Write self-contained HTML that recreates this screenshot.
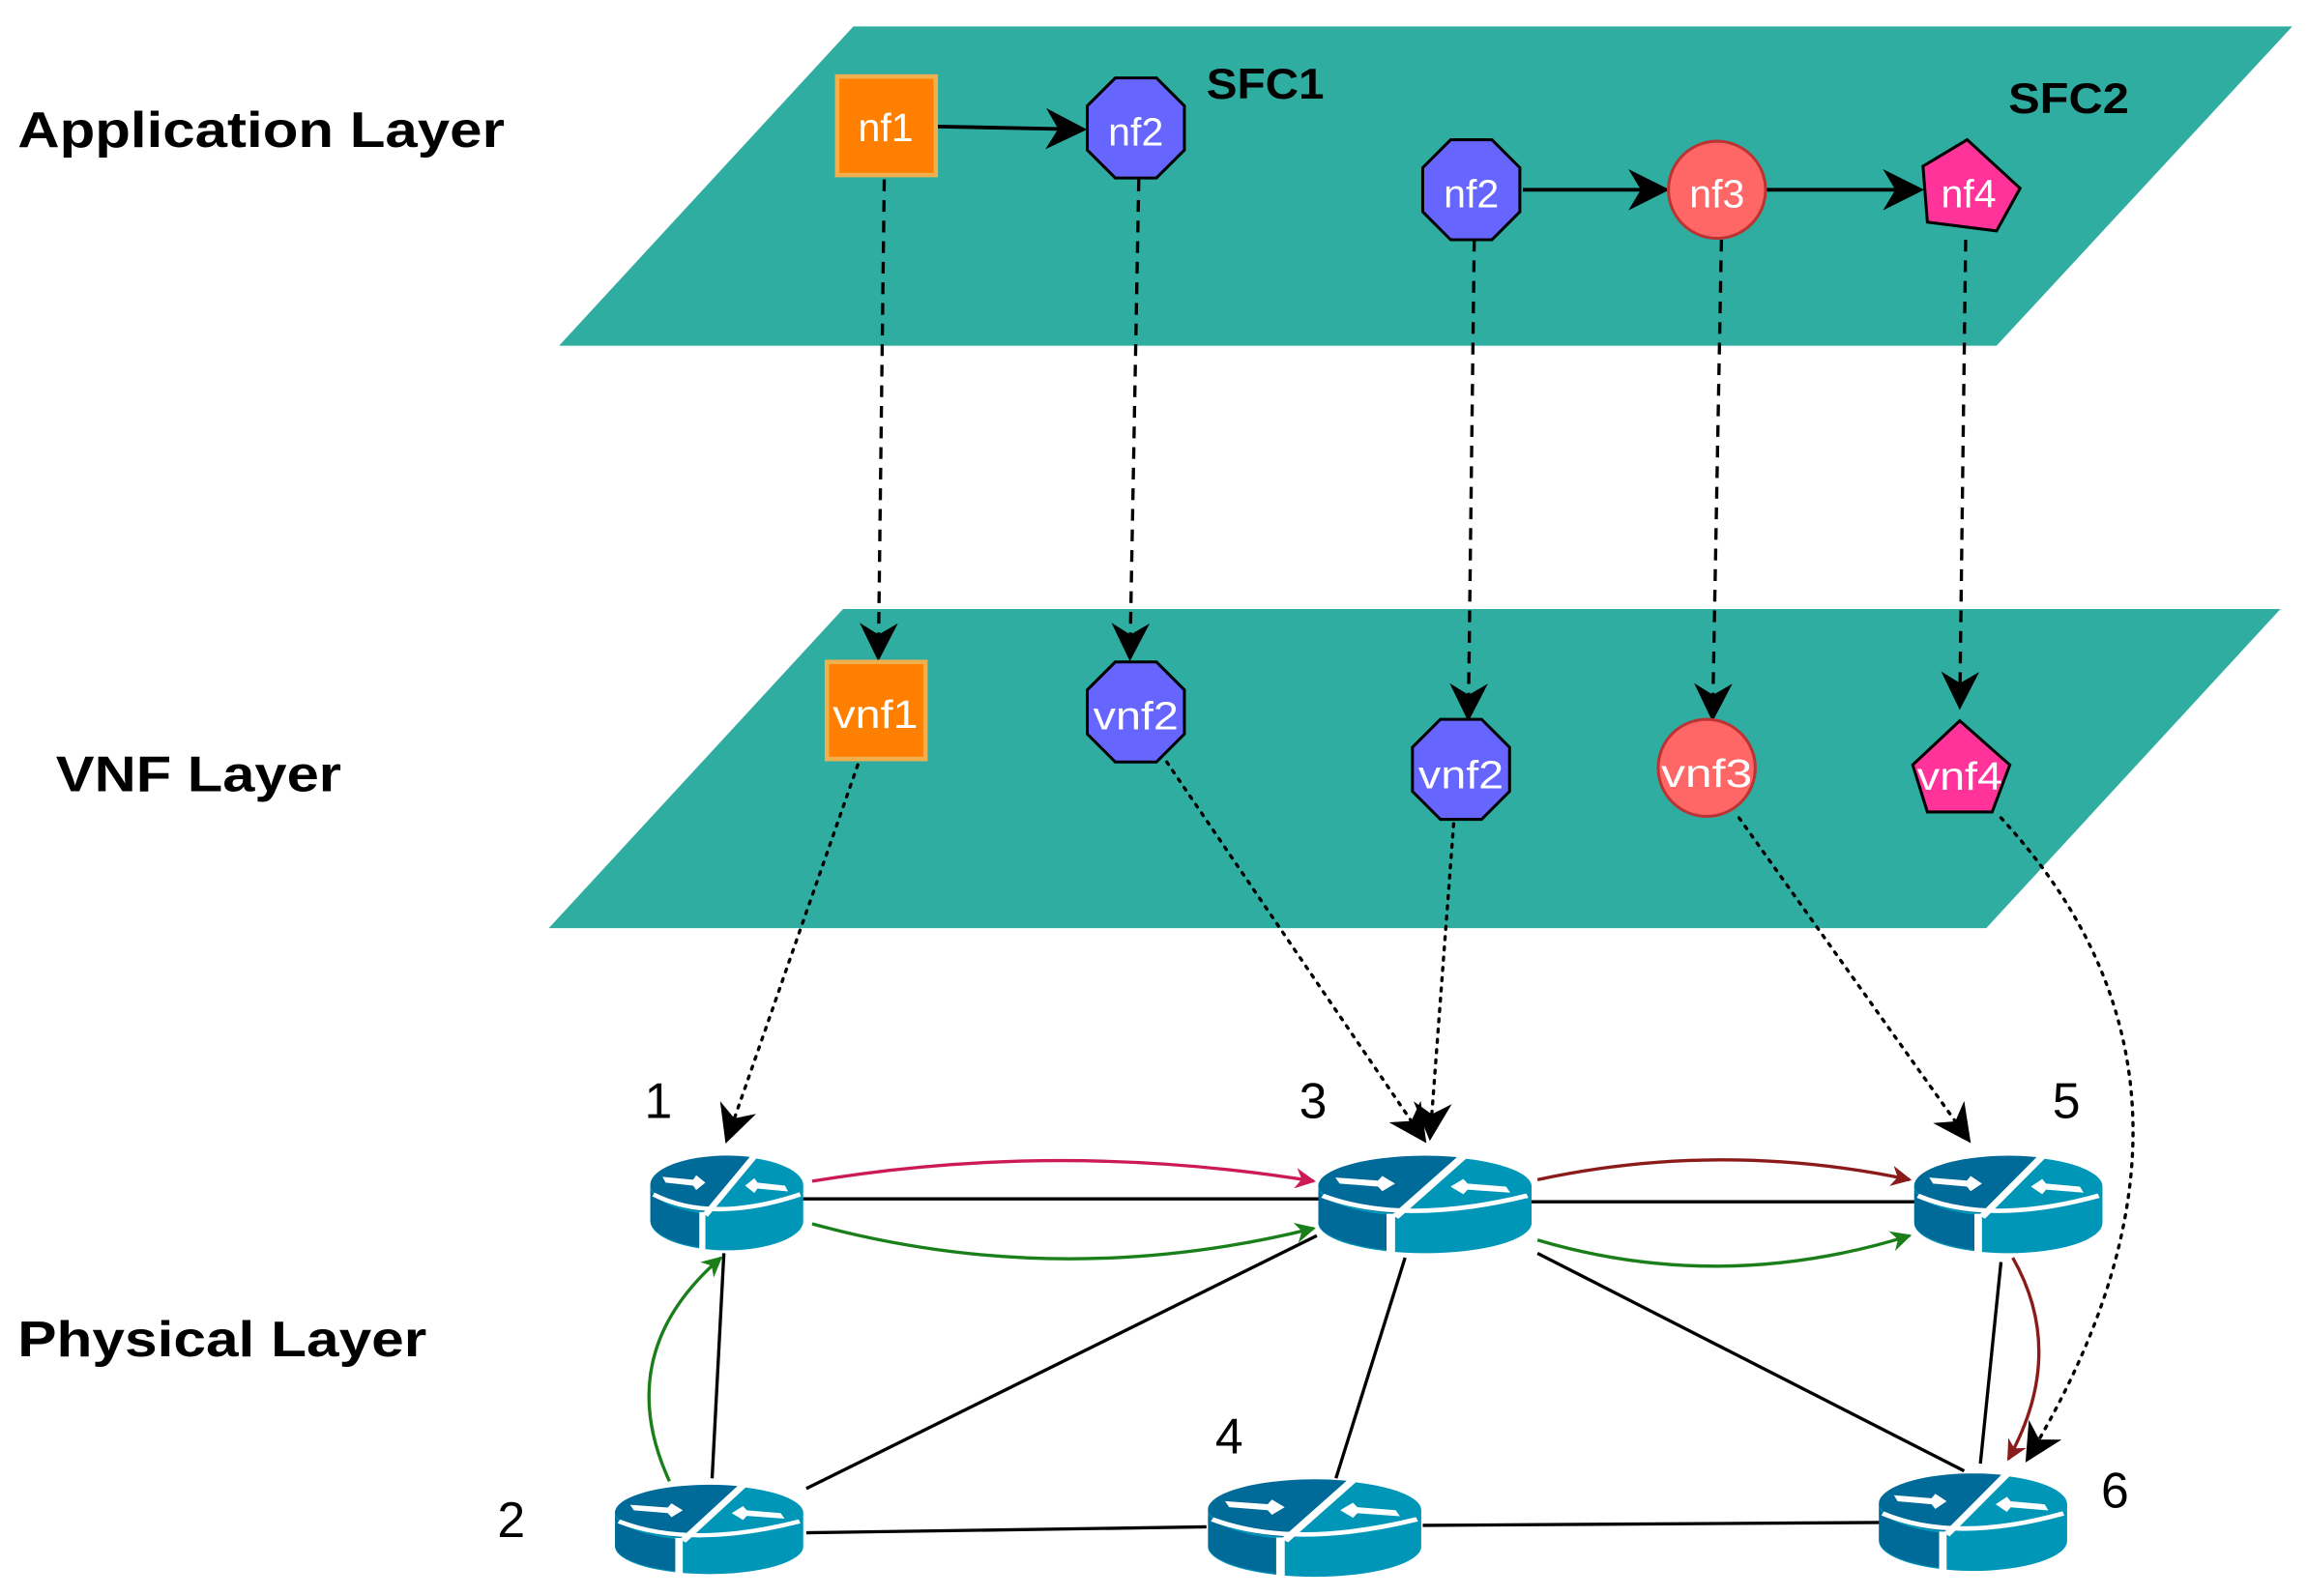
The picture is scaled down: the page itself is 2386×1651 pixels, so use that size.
<!DOCTYPE html>
<html><head><meta charset="utf-8"><style>
html,body{margin:0;padding:0;background:#fff;}
svg{display:block;}
text{font-family:"Liberation Sans",sans-serif;}
</style></head><body>
<svg width="2386" height="1651" viewBox="0 0 1568 1085" preserveAspectRatio="none" xmlns="http://www.w3.org/2000/svg">
<defs>
<marker id="ahb" viewBox="0 0 10 10" refX="9" refY="5" markerWidth="28" markerHeight="28" orient="auto" markerUnits="userSpaceOnUse">
<path d="M0,0 L10,5 L0,10 L3,5 z" fill="#000"/></marker>
<marker id="ahd" viewBox="0 0 10 10" refX="9" refY="5" markerWidth="26" markerHeight="26" orient="auto" markerUnits="userSpaceOnUse">
<path d="M0,0 L10,5 L0,10 L3,5 z" fill="#000"/></marker>
<marker id="ahr" viewBox="0 0 10 10" refX="9" refY="5" markerWidth="14" markerHeight="14" orient="auto" markerUnits="userSpaceOnUse">
<path d="M0,0 L10,5 L0,10 L3,5 z" fill="#cc1a55"/></marker>
<marker id="ahdr" viewBox="0 0 10 10" refX="9" refY="5" markerWidth="14" markerHeight="14" orient="auto" markerUnits="userSpaceOnUse">
<path d="M0,0 L10,5 L0,10 L3,5 z" fill="#8b1a1a"/></marker>
<marker id="ahg" viewBox="0 0 10 10" refX="9" refY="5" markerWidth="14" markerHeight="14" orient="auto" markerUnits="userSpaceOnUse">
<path d="M0,0 L10,5 L0,10 L3,5 z" fill="#1a7f1a"/></marker>
<symbol id="rt" viewBox="0 0 100 70" preserveAspectRatio="none">
<path d="M0,24 L0,48 A50,20 0 0 0 100,48 L100,24 z" fill="#0096b8"/>
<path d="M0,24 L0,48 A50,20 0 0 0 33,66 L33,40 z" fill="#006a98"/>
<ellipse cx="50" cy="24" rx="50" ry="20" fill="#0096b8"/>
<path d="M0,24 A50,20 0 0 1 65,4.5 L38,42 A50,20 0 0 1 0,24 z" fill="#006a98"/>
<path d="M2,30 Q40,50 98,30" stroke="#fff" stroke-width="3" fill="none"/>
<path d="M36,44 L68,4" stroke="#fff" stroke-width="4" fill="none"/>
<path d="M34,42 L34,70" stroke="#fff" stroke-width="4"/>
<path d="M8,18 L28,20 L30,17 L36,22 L30,27 L28,24 L10,22 z" fill="#fff"/>
<path d="M90,28 L70,26 L68,29 L62,24 L68,19 L70,22 L88,24 z" fill="#fff"/>
</symbol>
</defs>

<polygon points="580,18 1558,18 1357,235 380,235" fill="#2fada0"/>
<polygon points="573,414 1550,414 1350,631 373,631" fill="#2fada0"/>

<text x="12" y="100" font-size="34" font-weight="bold" textLength="331" lengthAdjust="spacingAndGlyphs">Application Layer</text>
<text x="38" y="538" font-size="34" font-weight="bold" textLength="194" lengthAdjust="spacingAndGlyphs">VNF Layer</text>
<text x="12" y="922" font-size="34" font-weight="bold" textLength="278" lengthAdjust="spacingAndGlyphs">Physical Layer</text>
<text x="820" y="67" font-size="29" font-weight="bold" textLength="80" lengthAdjust="spacingAndGlyphs">SFC1</text>
<text x="1365" y="77" font-size="29" font-weight="bold" textLength="82" lengthAdjust="spacingAndGlyphs">SFC2</text>

<g stroke="#000" stroke-width="2.2" stroke-dasharray="8,6" fill="none">
<line x1="601" y1="122" x2="597" y2="447" marker-end="url(#ahd)"/>
<line x1="774" y1="122" x2="768" y2="447" marker-end="url(#ahd)"/>
<line x1="1002" y1="163" x2="998" y2="488" marker-end="url(#ahd)"/>
<line x1="1170" y1="163" x2="1164" y2="488" marker-end="url(#ahd)"/>
<line x1="1336" y1="163" x2="1332" y2="480" marker-end="url(#ahd)"/>
</g>

<g stroke="#000" stroke-width="2.5" fill="none">
<line x1="637" y1="86" x2="736" y2="88" marker-end="url(#ahb)"/>
<line x1="1035" y1="129" x2="1132" y2="129" marker-end="url(#ahb)"/>
<line x1="1200" y1="129" x2="1305" y2="129" marker-end="url(#ahb)"/>
</g>
<rect x="569" y="52" width="67" height="67" fill="#ff8000" stroke="#f0b050" stroke-width="3"/>
<text x="602" y="96" font-size="27" fill="#fff" text-anchor="middle">nf1</text>
<polygon points="758,53 786,53 805,72 805,102 786,121 758,121 739,102 739,72" fill="#6666ff" stroke="#000" stroke-width="2"/>
<text x="772" y="99" font-size="27" fill="#fff" text-anchor="middle">nf2</text>
<polygon points="986,95 1014,95 1033,114 1033,144 1014,163 986,163 967,144 967,114" fill="#6666ff" stroke="#000" stroke-width="2"/>
<text x="1000" y="141" font-size="27" fill="#fff" text-anchor="middle">nf2</text>
<circle cx="1167" cy="129" r="33" fill="#ff6666" stroke="#b33" stroke-width="2"/>
<text x="1167" y="141" font-size="27" fill="#fff" text-anchor="middle">nf3</text>
<polygon points="1337,95 1373,128 1357,157 1310,151 1307,113" fill="#ff3399" stroke="#000" stroke-width="2"/>
<text x="1338" y="141" font-size="27" fill="#fff" text-anchor="middle">nf4</text>

<rect x="562" y="450" width="67" height="66" fill="#ff8000" stroke="#f0b050" stroke-width="3"/>
<text x="595" y="495" font-size="27" fill="#fff" text-anchor="middle" textLength="58" lengthAdjust="spacingAndGlyphs">vnf1</text>
<polygon points="758,450 786,450 805,469 805,499 786,518 758,518 739,499 739,469" fill="#6666ff" stroke="#000" stroke-width="2"/>
<text x="772" y="496" font-size="27" fill="#fff" text-anchor="middle" textLength="58" lengthAdjust="spacingAndGlyphs">vnf2</text>
<polygon points="979,489 1007,489 1026,508 1026,538 1007,557 979,557 960,538 960,508" fill="#6666ff" stroke="#000" stroke-width="2"/>
<text x="993" y="536" font-size="27" fill="#fff" text-anchor="middle" textLength="58" lengthAdjust="spacingAndGlyphs">vnf2</text>
<circle cx="1160" cy="522" r="33" fill="#ff6666" stroke="#b33" stroke-width="2"/>
<text x="1160" y="535" font-size="27" fill="#fff" text-anchor="middle" textLength="62" lengthAdjust="spacingAndGlyphs">vnf3</text>
<polygon points="1332,490 1366,520 1354,552 1310,552 1300,520" fill="#ff3399" stroke="#000" stroke-width="2"/>
<text x="1332" y="537" font-size="27" fill="#fff" text-anchor="middle" textLength="58" lengthAdjust="spacingAndGlyphs">vnf4</text>

<g stroke="#000" stroke-width="2.2" stroke-dasharray="2,5" stroke-linecap="round" fill="none">
<line x1="583" y1="520" x2="494" y2="775" marker-end="url(#ahd)"/>
<line x1="793" y1="518" x2="968" y2="775" marker-end="url(#ahd)"/>
<line x1="988" y1="560" x2="972" y2="773" marker-end="url(#ahd)"/>
<line x1="1182" y1="556" x2="1338" y2="775" marker-end="url(#ahd)"/>
<path d="M1360,556 Q1530,740 1378,992" marker-end="url(#ahd)"/>
</g>

<g stroke="#000" stroke-width="2.2" fill="none">
<line x1="545" y1="815" x2="898" y2="815"/>
<line x1="1040" y1="817" x2="1302" y2="817"/>
<line x1="492" y1="852" x2="484" y2="1005"/>
<line x1="548" y1="1012" x2="895" y2="840"/>
<line x1="955" y1="855" x2="908" y2="1005"/>
<line x1="1045" y1="852" x2="1335" y2="1000"/>
<line x1="1360" y1="858" x2="1346" y2="995"/>
<line x1="548" y1="1042" x2="820" y2="1038"/>
<line x1="967" y1="1037" x2="1280" y2="1035"/>
</g>
<g stroke-width="2.2" fill="none">
<path d="M552,803 Q720,775 893,803" stroke="#cc1a55" marker-end="url(#ahr)"/>
<path d="M552,832 Q720,878 893,835" stroke="#1a7f1a" marker-end="url(#ahg)"/>
<path d="M1045,802 Q1170,775 1298,802" stroke="#8b1a1a" marker-end="url(#ahdr)"/>
<path d="M1045,843 Q1170,880 1298,840" stroke="#1a7f1a" marker-end="url(#ahg)"/>
<path d="M1368,855 Q1405,920 1365,992" stroke="#8b1a1a" marker-end="url(#ahdr)"/>
<path d="M455,1007 Q415,920 490,855" stroke="#1a7f1a" marker-end="url(#ahg)"/>
</g>

<use href="#rt" x="442" y="782" width="104" height="70"/>
<use href="#rt" x="896" y="782" width="145" height="72"/>
<use href="#rt" x="1301" y="782" width="128" height="72"/>
<use href="#rt" x="418" y="1006" width="128" height="66"/>
<use href="#rt" x="821" y="1002" width="145" height="72"/>
<use href="#rt" x="1277" y="998" width="128" height="72"/>

<g font-size="34" fill="#000">
<text x="438" y="760">1</text>
<text x="883" y="760">3</text>
<text x="1395" y="760">5</text>
<text x="338" y="1045">2</text>
<text x="826" y="988">4</text>
<text x="1428" y="1025">6</text>
</g>
</svg>
</body></html>
